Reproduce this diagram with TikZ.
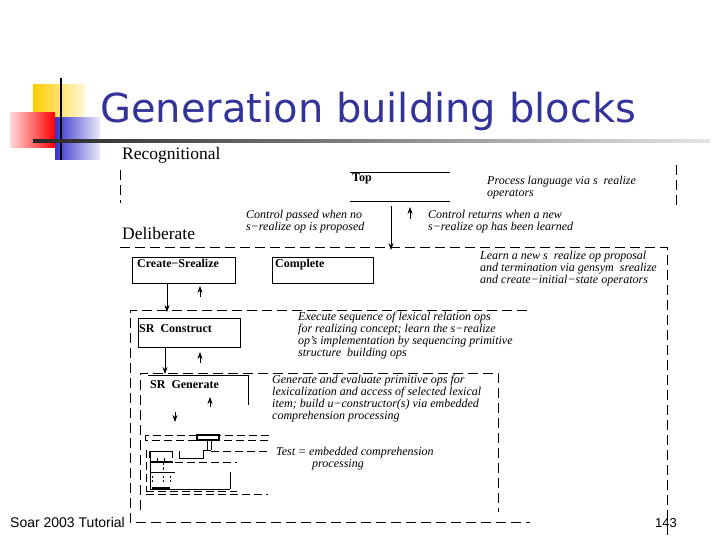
\documentclass[tikz,border=0pt]{standalone}
\usepackage{fontspec}
\setmainfont{Liberation Serif}
\newfontfamily\titlefont{DejaVu Sans}
\newfontfamily\footfont{Liberation Sans}
\usetikzlibrary{positioning,calc,arrows.meta}
\definecolor{titleblue}{RGB}{51,51,153}
\definecolor{logoyellow}{RGB}{255,204,0}
\definecolor{logoblue}{RGB}{51,51,204}

\begin{document}
\begin{tikzpicture}[x=1pt,y=-1pt,
    region/.style={draw,dash pattern=on 10pt off 5pt,line width=0.7pt},
    blk/.style={rectangle,draw,line width=0.7pt,inner sep=0,anchor=north west},
    blklabel/.style={font=\fontsize{12}{12}\selectfont\bfseries,anchor=base west,inner sep=0},
    level/.style={font=\fontsize{17.5}{18}\selectfont,anchor=base west,inner sep=0},
    note/.style={font=\fontsize{12}{12}\selectfont\itshape,align=left,anchor=north west,inner sep=0},
    flow/.style={-{Stealth[length=7pt,width=5pt]},line width=0.7pt},
    tiny/.style={line width=0.6pt}]

\useasboundingbox (0,0) rectangle (720,540);
\fill[white] (0,0) rectangle (720,540);

% logo and title
\shade[left color=logoyellow,right color=logoyellow!15] (33,85) rectangle (85,118);
\shade[left color=logoblue,right color=logoblue!10] (55,118) rectangle (100,160);
\shade[left color=red!15,right color=red] (10,113) rectangle (55,148);
\draw[line width=2pt] (61,78) -- (61,160);
\shade[left color=black!85,right color=black!10] (33,140) rectangle (710,142.5);
\node[font=\titlefont\fontsize{40}{42}\selectfont,text=titleblue,anchor=base west,inner sep=0] (title) at (100,123) {Generation building blocks};

% recognitional level
\node[level] (recog) at (122,160) {Recognitional};
\draw[region] (120,170) -- (120,203);
\draw[region] (676,165) -- (676,205);
\draw[line width=0.7pt] (350,172) -- (450,172);
\draw[line width=0.7pt] (350,201) -- (450,201);
\node[blklabel] (top) at (352,182) {Top};
\node[note] (process) at (487,175.5) {Process language via s\enspace realize\\operators};
\node[note] (passed) at (246,209.5) {Control passed when no\\s−realize op is proposed};
\node[note] (returns) at (428,209.5) {Control returns when a new\\s−realize op has been learned};
\coordinate (passTop) at (391,206);
\coordinate (passEnd) at (391,250);
\coordinate (retBot) at (410,219);
\coordinate (retTop) at (410,207);
\draw[flow] (passTop) -- (passEnd);
\draw[flow] (retBot) -- (retTop);

% deliberate level
\node[level] (delib) at (122,240) {Deliberate};
\draw[region] (120,247) -- (667,247) -- (667,540);
\node[note] (learn) at (480,250.5) {Learn a new s\enspace realize op proposal\\and termination via gensym\enspace srealize\\and create−initial−state operators};
\node[blk,minimum width=103pt,minimum height=26pt] (create) at (132,257) {};
\node[blklabel] (createlbl) at (137,267) {Create−Srealize};
\node[blk,minimum width=101pt,minimum height=26pt] (complete) at (272,257) {};
\node[blklabel] (completelbl) at (275,267) {Complete};

% sr construct
\draw[region] (527,310) -- (130,310) -- (130,522) -- (530,522);
\coordinate (consIn) at (167,312);
\draw[flow] (create.south -| consIn) -- (consIn);
\coordinate (consOutBot) at (200,297);
\coordinate (consOutTop) at (200,286);
\draw[flow] (consOutBot) -- (consOutTop);
\node[blk,minimum width=102pt,minimum height=29pt] (construct) at (138,318) {};
\node[blklabel] (constructlbl) at (139,332) {SR\enspace Construct};
\node[note] (execute) at (298,311.5) {Execute sequence of lexical relation ops\\for realizing concept; learn the s−realize\\op's implementation by sequencing primitive\\structure\enspace building ops};

% sr generate
\draw[region] (140,510) -- (140,373) -- (498,373) -- (498,512);
\coordinate (genIn) at (165,374);
\draw[flow] (construct.south -| genIn) -- (genIn);
\coordinate (genOutBot) at (200,363);
\coordinate (genOutTop) at (200,352);
\draw[flow] (genOutBot) -- (genOutTop);
\draw[line width=0.7pt] (148,375) -- (248,375) -- (248,405);
\node[blklabel] (generatelbl) at (150,388) {SR\enspace Generate};
\node[note] (generate) at (272,374.5) {Generate and evaluate primitive ops for\\lexicalization and access of selected lexical\\item; build u−constructor(s) via embedded\\comprehension processing};
\coordinate (subInTop) at (175,412);
\coordinate (subIn) at (175,422);
\draw[flow] (subInTop) -- (subIn);
\coordinate (subOutBot) at (210,407);
\coordinate (subOutTop) at (210,397);
\draw[flow] (subOutBot) -- (subOutTop);

% embedded comprehension (nested levels)
\draw[region,dash pattern=on 8pt off 4pt] (145,435) rectangle (268,440);
\draw[line width=1.3pt] (197,435) rectangle (219,440);
\draw[tiny] (207,440) -- (207,450);
\draw[tiny] (211,440) -- (211,450);
\draw[tiny] (149,458) -- (149,451) -- (172,451) -- (172,458);
\draw[tiny] (179,451) -- (179,458) -- (203,458) -- (203,450) -- (211,450);
\draw[tiny,dash pattern=on 8pt off 4pt] (211,451) -- (268,451);
\draw[tiny,dash pattern=on 8pt off 4pt] (146,450) -- (146,492);
\draw[tiny] (150,451) -- (150,489);
\draw[line width=1.5pt] (150,462) -- (173,462);
\draw[tiny] (157,458) -- (157,462);
\draw[tiny] (164,458) -- (164,462);
\draw[tiny,dash pattern=on 8pt off 4pt] (175,462) -- (237,462);
\draw[tiny] (150,472) -- (175,472);
\draw[tiny,dash pattern=on 3pt off 2pt] (163,462) -- (163,472);
\foreach \xx in {152,163,170}
  \draw[tiny,dash pattern=on 2pt off 2pt] (\xx,476) -- (\xx,483);
\draw[tiny] (230,472) -- (230,489);
\draw[tiny] (150,489) -- (230,489);
\draw[line width=1.5pt] (152,488) -- (170,488);
\draw[tiny,dash pattern=on 8pt off 4pt] (146,491.5) -- (237,491.5);
\draw[tiny,dash pattern=on 8pt off 4pt] (146,494) -- (268,494);
\node[note] (test) at (276,446.5) {Test = embedded comprehension\\\hspace*{36pt}processing};

% footer
\node[font=\footfont\fontsize{14}{14}\selectfont,anchor=base west,inner sep=0] (footer) at (10,527) {Soar 2003 Tutorial};
\node[font=\footfont\fontsize{13}{13}\selectfont,anchor=base west,inner sep=0] (page) at (655,527) {143};
\end{tikzpicture}
\end{document}
